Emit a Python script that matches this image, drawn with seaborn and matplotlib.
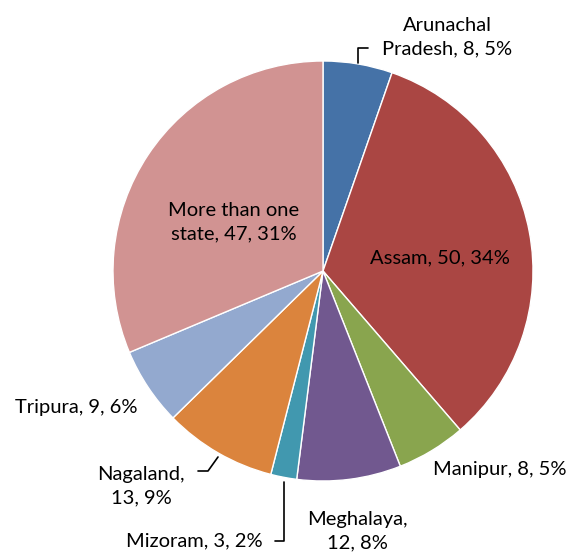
import matplotlib
matplotlib.use("Agg")
import matplotlib.pyplot as plt
import seaborn as sns

sns.set_style("white")
plt.rcParams['font.family'] = ['Lato', 'DejaVu Sans']

# Data
states = ['Arunachal\nPradesh', 'Assam', 'Manipur', 'Meghalaya',
          'Mizoram', 'Nagaland', 'Tripura', 'More than one\nstate']
counts = [8, 50, 8, 12, 3, 13, 9, 47]
pcts = [5, 34, 5, 8, 2, 9, 6, 31]
colors = ['#4572A7', '#AA4643', '#89A54E', '#71588F',
          '#4198AF', '#DB843D', '#93A9CF', '#D19392']

W, H = 574, 552
fig = plt.figure(figsize=(W / 100, H / 100), dpi=100)

# pie centre / radius in pixels
cx, cy, r = 323, 271, 210
ax = fig.add_axes([(cx - r) / W, (H - cy - r) / H, 2 * r / W, 2 * r / H])
ax.pie(counts, colors=colors, startangle=90, counterclock=False,
       wedgeprops=dict(edgecolor='white', linewidth=1), radius=1)
ax.set_xlim(-1, 1)
ax.set_ylim(-1, 1)
ax.set_aspect('auto')
ax.axis('off')

# label text, split at the right place per slice
labels = []
for s, c, p in zip(states, counts, pcts):
    if s == 'Nagaland' or s == 'Meghalaya':
        labels.append(f'{s},\n{c}, {p}%')
    else:
        labels.append(f'{s}, {c}, {p}%')

# label centres in pixels
label_pos = [(447, 37), (440, 258), (500, 470), (357, 531),
             (194, 541), (141, 486), (76, 407), (234, 222)]

def fx(px):
    return px / W

def fy(py):
    return 1 - py / H

for lab, (px, py) in zip(labels, label_pos):
    fig.text(fx(px), fy(py), lab, ha='center', va='center',
             fontsize=14.5, color='black', linespacing=1.45)

# leader lines (pixels)
leaders = [
    [(358, 63), (358, 48), (368, 48)],
    [(218, 457), (208, 471), (198, 471)],
    [(284, 482), (284, 541), (275, 541)],
]
for pts in leaders:
    xs = [fx(p[0]) for p in pts]
    ys = [fy(p[1]) for p in pts]
    fig.add_artist(plt.Line2D(xs, ys, color='black', linewidth=1.2))

fig.savefig('out.png', dpi=100)
